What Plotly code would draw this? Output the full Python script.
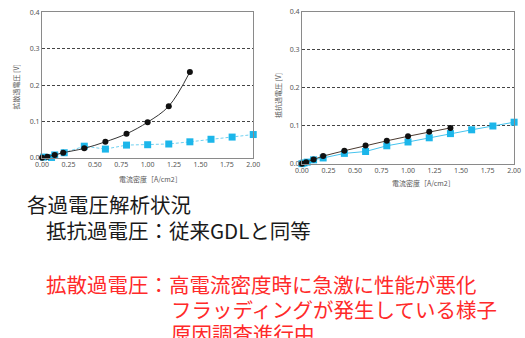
import plotly.graph_objects as go

W, H = 525, 338

# Diffusion overvoltage (left chart)
diff_new_x = [0.0, 0.05, 0.12, 0.2, 0.4, 0.6, 0.8, 1.0, 1.2, 1.4]
diff_new_y = [0.0, 0.003, 0.008, 0.014, 0.026, 0.044, 0.066, 0.098, 0.142, 0.236]
diff_ref_x = [0.015, 0.09, 0.12, 0.21, 0.4, 0.6, 0.8, 1.0, 1.2, 1.4, 1.6, 1.8, 2.0]
diff_ref_y = [0.002, 0.001, 0.008, 0.014, 0.032, 0.024, 0.035, 0.036, 0.038, 0.044, 0.051, 0.057, 0.064]

# Resistance overvoltage (right chart)
res_new_x = [0.0, 0.04, 0.11, 0.2, 0.4, 0.6, 0.8, 1.0, 1.2, 1.4]
res_new_y = [0.0, 0.004, 0.011, 0.020, 0.034, 0.048, 0.060, 0.072, 0.084, 0.094]
res_ref_x = [0.0, 0.02, 0.05, 0.11, 0.2, 0.4, 0.6, 0.8, 1.0, 1.2, 1.4, 1.6, 1.8, 2.0]
res_ref_y = [0.0, 0.002, 0.004, 0.010, 0.015, 0.027, 0.032, 0.047, 0.057, 0.068, 0.079, 0.089, 0.099, 0.109]

x_ticks = [0, 0.25, 0.5, 0.75, 1.0, 1.25, 1.5, 1.75, 2.0]
y_ticks = [0.0, 0.1, 0.2, 0.3, 0.4]

x_title = "電流密度［A/cm2］"
y_title_left = "拡散過電圧 [V]"
y_title_right = "抵抗過電圧 [V]"

notes_black = ["各過電圧解析状況", "抵抗過電圧：従来GDLと同等"]
notes_red = ["拡散過電圧：高電流密度時に急激に性能が悪化",
             "フラッディングが発生している様子",
             "原因調査進行中"]

BLACK = "#111111"
CYAN = "#1cb6ea"
FONT = "Noto Sans CJK JP"


def px_x(p):
    return p / W


def px_y(p):
    return 1 - p / H


fig = go.Figure()

# left chart traces
fig.add_trace(go.Scatter(x=diff_ref_x, y=diff_ref_y, mode="lines+markers",
                         line=dict(color="#6fd0f0", width=1, dash="3px,2px"),
                         marker=dict(symbol="square", size=7, color=CYAN),
                         cliponaxis=False, xaxis="x", yaxis="y", showlegend=False))
fig.add_trace(go.Scatter(x=diff_new_x, y=diff_new_y, mode="lines+markers",
                         line=dict(color="#333333", width=1, shape="spline"),
                         marker=dict(symbol="circle", size=6, color=BLACK),
                         cliponaxis=False, xaxis="x", yaxis="y", showlegend=False))

# right chart traces
fig.add_trace(go.Scatter(x=res_ref_x, y=res_ref_y, mode="lines+markers",
                         line=dict(color="#45c3ee", width=1),
                         marker=dict(symbol="square", size=7, color=CYAN),
                         cliponaxis=False, xaxis="x2", yaxis="y2", showlegend=False))
fig.add_trace(go.Scatter(x=res_new_x, y=res_new_y, mode="lines+markers",
                         line=dict(color="#4a3a30", width=1),
                         marker=dict(symbol="circle", size=6, color=BLACK),
                         cliponaxis=False, xaxis="x2", yaxis="y2", showlegend=False))

tick_font = dict(family="Noto Sans", size=7, color="#555555")

xaxis_common = dict(range=[0, 2], tickvals=x_ticks, tickformat=".2f",
                    showgrid=False, zeroline=False, showline=True, mirror=True,
                    linecolor="#8a8a8a", linewidth=1, ticks="", tickfont=tick_font)
yaxis_common = dict(range=[0, 0.4], tickvals=y_ticks, tickformat=".1f",
                    showgrid=True, gridcolor="#444444", griddash="3px,2px", gridwidth=1,
                    zeroline=False, showline=True, mirror=True,
                    linecolor="#8a8a8a", linewidth=1, ticks="", tickfont=tick_font)

fig.update_layout(
    width=W, height=H,
    margin=dict(l=0, r=0, t=0, b=0),
    paper_bgcolor="white", plot_bgcolor="white",
    xaxis=dict(domain=[px_x(36), px_x(253)], anchor="y", **xaxis_common),
    yaxis=dict(domain=[px_y(157), px_y(7.5)], anchor="x", **yaxis_common),
    xaxis2=dict(domain=[px_x(303), px_x(521)], anchor="y2", **xaxis_common),
    yaxis2=dict(domain=[px_y(163), px_y(6.7)], anchor="x2", **yaxis_common),
)

ann = []
small = dict(family=FONT, size=7, color="#555555")
ann.append(dict(x=px_x(147), y=px_y(179), text=x_title, font=small))
ann.append(dict(x=px_x(428), y=px_y(183), text=x_title, font=small))
ann.append(dict(x=px_x(9), y=px_y(84), text=y_title_left, font=small, textangle=-90))
ann.append(dict(x=px_x(278), y=px_y(93), text=y_title_right, font=small, textangle=-90))

big_black = dict(family=FONT, size=20.5, color="#1a1a1a")
big_red = dict(family=FONT, size=20.5, color="#ff2a2a")
ann.append(dict(x=px_x(18), y=px_y(204), text=notes_black[0], font=big_black, xanchor="left"))
ann.append(dict(x=px_x(38), y=px_y(231), text=notes_black[1], font=big_black, xanchor="left"))
ann.append(dict(x=px_x(38), y=px_y(287), text=notes_red[0], font=big_red, xanchor="left"))
ann.append(dict(x=px_x(166), y=px_y(312), text=notes_red[1], font=big_red, xanchor="left"))
ann.append(dict(x=px_x(166), y=px_y(337), text=notes_red[2], font=big_red, xanchor="left"))

for a in ann:
    a.setdefault("xanchor", "center")
    a.update(xref="paper", yref="paper", yanchor="middle", showarrow=False)
fig.update_layout(annotations=ann)

fig.write_html("out.html")
